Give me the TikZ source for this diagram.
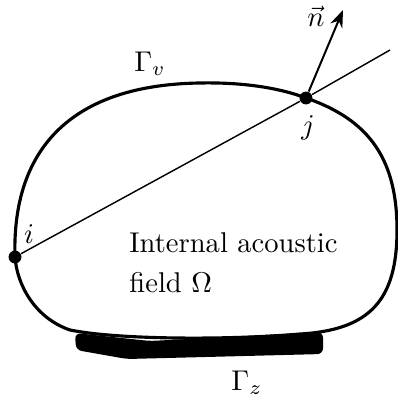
\documentclass[tikz,border=0pt]{standalone}
\usepackage{amsmath}
\usetikzlibrary{arrows.meta, positioning}

\begin{document}
\begin{tikzpicture}[
  x=0.35pt, y=-0.35pt,
  wall/.style={line width=1.1pt, line join=round},
  chord/.style={line width=0.5pt},
  normal/.style={-{Stealth[length=6pt, width=4.5pt]}, line width=0.7pt},
  dot/.style={circle, fill=black, inner sep=0pt, minimum size=4.5pt},
  lbl/.style={font=\normalsize, inner sep=1pt}
]
\useasboundingbox (0,0) rectangle (398,399);

% --- boundary of the field ---
\draw[wall] (15,257) .. controls (12,160) and (60,85) .. (200,83)
  .. controls (250,82) and (285,90) .. (306,98)
  .. controls (370,120) and (397,160) .. (397,230)
  .. controls (397,300) and (370,330) .. (300,334)
  .. controls (230,340) and (120,340) .. (70,330)
  .. controls (35,318) and (17,285) .. cycle;

% --- impedance part of the wall ---
\fill[rounded corners=2pt] (75,333) -- (150,341) -- (323,332)
  -- (323,354) -- (127,359) -- (76,350) -- cycle;

% --- points ---
\node[dot] (i) at (15,257) {};
\node[dot] (j) at (306,98) {};
\coordinate (rayend) at (390,50);
\coordinate (ntip)   at (343,10);

% --- labels ---
\node[lbl] (ilbl)  at (29,234) {$i$};
\node[lbl] (jlbl)  at (308,128) {$j$};
\node[lbl] (nlbl)  at (316,16)  {$\vec{n}$};
\node[lbl] (gv)    at (150,64)  {$\Gamma_v$};
\node[lbl] (gz)    at (247,383) {$\Gamma_z$};
\node[lbl, align=left, anchor=north west] (field) at (126,229)
  {Internal acoustic\\[2pt]field $\Omega$};

% Arrows
\draw[chord]  (i) -- (j) -- (rayend);
\draw[normal] (j) -- (ntip);

\end{tikzpicture}
\end{document}
